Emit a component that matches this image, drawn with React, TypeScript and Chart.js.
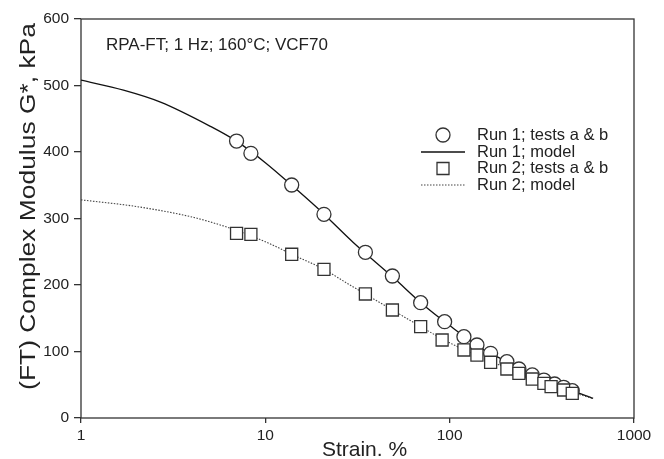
import React, { useEffect, useRef } from "react";
import { Chart, registerables } from "chart.js";

Chart.register(...registerables);

const FONT = "'Liberation Sans', Arial, Helvetica, sans-serif";
const INK = "#222";

// Axis ticks
const xTickValues = [1, 10, 100, 1000];
const yMin = 0;
const yMax = 600;
const yStep = 100;

// Texts
const annotationText = "RPA-FT; 1 Hz; 160°C; VCF70";
const xTitle = "Strain. %";
const yTitle = "(FT) Complex Modulus G*, kPa";
const legendLabels = [
  "Run 1; tests a & b",
  "Run 1; model",
  "Run 2; tests a & b",
  "Run 2; model",
];

// Run 1 measured (circles)
const run1Strain = [6.98, 8.35, 13.9, 20.8, 34.9, 48.9, 69.6, 93.9, 119.5, 140.6, 166.8, 204.4, 237.5, 280.6, 324.4, 370.8, 414.9, 462.4];
const run1G = [416.5, 398, 350.4, 306.3, 249.2, 213.5, 173.4, 144.8, 122.3, 109.8, 97.3, 84.7, 73.7, 64.7, 57.1, 51.1, 46.2, 41.1];

// Run 2 measured (squares)
const run2Strain = [6.98, 8.35, 13.9, 20.8, 34.9, 48.9, 69.6, 91, 119.5, 140.6, 166.8, 204.4, 237.5, 280.6, 324.4, 355, 414.9, 462.4];
const run2G = [277.7, 276.2, 246.2, 223.6, 186.5, 162.4, 137.3, 117.3, 102.3, 94.7, 83.8, 73.7, 67.2, 58.6, 52.2, 47.1, 42.1, 37.1];

// Run 1 model (solid)
const model1Strain = [1, 1.7, 2.7, 5, 7, 10, 15, 20, 30, 50, 70, 100, 150, 200, 300, 400, 600];
const model1G = [508, 493, 475, 439, 416, 384, 342, 311, 264, 210, 173, 139, 104, 86, 61, 47.5, 29.6];

// Run 2 model (dotted)
const model2Strain = [1, 2, 3.9, 5, 6.5, 10, 15, 20, 30, 50, 70, 100, 150, 200, 300, 400, 600];
const model2G = [328, 318, 303, 295, 285, 265, 242, 226, 197, 161, 137, 113, 91, 76, 56, 44, 29];

const toPts = (xs: number[], ys: number[]) => xs.map((x, i) => ({ x, y: ys[i] }));

const overlayPlugin = {
  id: "overlay",
  beforeDatasetsDraw(chart: any) {
    const { ctx, chartArea: a } = chart;
    ctx.save();
    ctx.strokeStyle = "#333";
    ctx.lineWidth = 1.3;
    ctx.strokeRect(a.left, a.top, a.right - a.left, a.bottom - a.top);
    ctx.restore();
  },
  afterDraw(chart: any) {
    const { ctx, chartArea: a } = chart;
    ctx.save();
    ctx.fillStyle = INK;
    // annotation
    ctx.font = `17px ${FONT}`;
    ctx.textAlign = "left";
    ctx.textBaseline = "middle";
    ctx.fillText(annotationText, a.left + 25, 45);

    // legend
    const lx = 443;
    const tx = 477;
    const rows = [135, 152, 168.5, 185];
    ctx.font = `16.5px ${FONT}`;
    legendLabels.forEach((t, i) => ctx.fillText(t, tx, rows[i]));
    ctx.strokeStyle = "#333";
    ctx.lineWidth = 1.3;
    ctx.fillStyle = "#fff";
    ctx.beginPath();
    ctx.arc(lx, rows[0], 7, 0, Math.PI * 2);
    ctx.fill();
    ctx.stroke();
    ctx.beginPath();
    ctx.moveTo(lx - 22, rows[1]);
    ctx.lineTo(lx + 22, rows[1]);
    ctx.strokeStyle = "#111";
    ctx.stroke();
    ctx.strokeStyle = "#333";
    ctx.beginPath();
    ctx.rect(lx - 6, rows[2] - 6, 12, 12);
    ctx.fill();
    ctx.stroke();
    ctx.beginPath();
    ctx.setLineDash([1.5, 1.5]);
    ctx.lineWidth = 1.1;
    ctx.strokeStyle = "#444";
    ctx.moveTo(lx - 22, rows[3]);
    ctx.lineTo(lx + 22, rows[3]);
    ctx.stroke();
    ctx.setLineDash([]);

    // axis titles
    ctx.fillStyle = INK;
    ctx.font = `21px ${FONT}`;
    ctx.textAlign = "center";
    ctx.textBaseline = "middle";
    ctx.fillText(xTitle, (a.left + a.right) / 2 + 7, 450);
    ctx.translate(29, (a.top + a.bottom) / 2 - 12);
    ctx.rotate(-Math.PI / 2);
    ctx.scale(1.2, 1);
    ctx.font = `22px ${FONT}`;
    ctx.fillText(yTitle, 0, 0);
    ctx.restore();
  },
};

export default function App() {
  const ref = useRef<HTMLCanvasElement | null>(null);

  useEffect(() => {
    document.body.style.margin = "0";
    const canvas = ref.current;
    if (!canvas) return;
    const chart = new Chart(canvas, {
      type: "scatter",
      data: {
        datasets: [
          {
            label: legendLabels[1],
            data: toPts(model1Strain, model1G),
            showLine: true,
            borderColor: "#111",
            borderWidth: 1.3,
            pointRadius: 0,
            cubicInterpolationMode: "monotone",
            order: 4,
          },
          {
            label: legendLabels[3],
            data: toPts(model2Strain, model2G),
            showLine: true,
            borderColor: "#444",
            borderWidth: 1.1,
            borderDash: [1.5, 1.5],
            pointRadius: 0,
            cubicInterpolationMode: "monotone",
            order: 3,
          },
          {
            label: legendLabels[0],
            data: toPts(run1Strain, run1G),
            showLine: false,
            pointStyle: "circle",
            pointRadius: 7,
            pointBorderWidth: 1.3,
            pointBackgroundColor: "#fff",
            pointBorderColor: "#333",
            order: 2,
          },
          {
            label: legendLabels[2],
            data: toPts(run2Strain, run2G),
            showLine: false,
            pointStyle: "rect",
            pointRadius: 8.5,
            pointBorderWidth: 1.3,
            pointBackgroundColor: "#fff",
            pointBorderColor: "#333",
            order: 1,
          },
        ],
      },
      options: {
        responsive: false,
        animation: false,
        layout: { padding: { top: 19, right: 30, left: 0, bottom: 0 } },
        plugins: {
          legend: { display: false },
          tooltip: { enabled: false },
        },
        scales: {
          x: {
            type: "logarithmic",
            min: 1,
            max: 1000,
            afterBuildTicks: (s: any) => {
              s.ticks = xTickValues.map((v) => ({ value: v }));
            },
            afterFit: (s: any) => {
              s.height = 41;
            },
            border: { display: false },
            grid: {
              display: true,
              drawOnChartArea: false,
              drawTicks: true,
              tickLength: 5,
              color: "#333",
              lineWidth: 1.3,
            },
            ticks: {
              font: { family: FONT, size: 15.5 },
              color: INK,
              padding: 3,
              maxRotation: 0,
              autoSkip: false,
              callback: (v: any) => String(v),
            },
          },
          y: {
            min: yMin,
            max: yMax,
            afterFit: (s: any) => {
              s.width = 81;
            },
            border: { display: false },
            grid: {
              display: true,
              drawOnChartArea: false,
              drawTicks: true,
              tickLength: 7,
              color: "#333",
              lineWidth: 1.3,
            },
            ticks: {
              stepSize: yStep,
              font: { family: FONT, size: 15.5 },
              color: INK,
              padding: 5,
            },
          },
        },
      },
      plugins: [overlayPlugin],
    } as any);
    return () => chart.destroy();
  }, []);

  return (
    <div style={{ position: "absolute", left: 0, top: 0, width: 664, height: 459, background: "#fff" }}>
      <canvas ref={ref} width={664} height={459} style={{ width: 664, height: 459 }} />
    </div>
  );
}
